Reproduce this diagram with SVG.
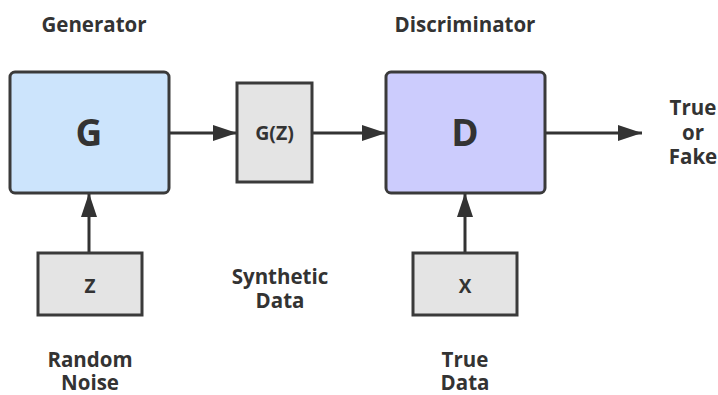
<svg xmlns="http://www.w3.org/2000/svg" width="718" height="395" viewBox="0 0 718 395">
  <style>
    .box { stroke: #3a3a3a; stroke-width: 3; }
    .big { fill: #cce4fc; }
    .dis { fill: #ccccfd; }
    .small { fill: #e4e4e4; }
    .lbl { font-family: "Open Sans", "Liberation Sans", sans-serif; font-weight: bold; fill: #333333; text-anchor: middle; }
    .cap { font-size: 20.5px; }
    .edge { stroke: #333333; stroke-width: 3; fill: none; }
  </style>
  <defs>
    <marker id="head" viewBox="0 0 24 16" refX="24" refY="8" markerWidth="24" markerHeight="16" markerUnits="userSpaceOnUse" orient="auto">
      <path d="M0,0 L24,8 L0,16 z" fill="#333333"/>
    </marker>
  </defs>

  <!-- section titles -->
  <text class="lbl cap" x="94" y="32">Generator</text>
  <text class="lbl cap" x="465" y="32">Discriminator</text>

  <g id="connectors">
    <line class="edge" x1="169" y1="133" x2="237" y2="133" marker-end="url(#head)"/>
    <line class="edge" x1="312" y1="133" x2="386" y2="133" marker-end="url(#head)"/>
    <line class="edge" x1="545" y1="133" x2="642" y2="133" marker-end="url(#head)"/>
    <line class="edge" x1="89" y1="253" x2="89" y2="193" marker-end="url(#head)"/>
    <line class="edge" x1="465" y1="253" x2="465" y2="193" marker-end="url(#head)"/>
  </g>

  <g id="node-g">
    <rect class="box big" x="10" y="72" width="159" height="121" rx="5"/>
    <text class="lbl" x="89" y="146" font-size="37">G</text>
  </g>

  <g id="node-gz">
    <rect class="box small" x="237" y="83" width="75" height="99"/>
    <text class="lbl" x="274.5" y="140" font-size="19.5">G(Z)</text>
  </g>

  <g id="node-d">
    <rect class="box dis" x="386" y="72" width="159" height="121" rx="5"/>
    <text class="lbl" x="465" y="146" font-size="37">D</text>
  </g>

  <g id="node-z">
    <rect class="box small" x="38" y="253" width="104" height="62"/>
    <text class="lbl" x="90" y="293" font-size="19">Z</text>
  </g>

  <g id="node-x">
    <rect class="box small" x="413" y="253" width="104" height="62"/>
    <text class="lbl" x="465" y="293" font-size="19">X</text>
  </g>

  <g id="output-label">
    <text class="lbl cap" x="693" y="115">True</text>
    <text class="lbl cap" x="693" y="140">or</text>
    <text class="lbl cap" x="693" y="164">Fake</text>
  </g>

  <g id="caption-synthetic">
    <text class="lbl cap" x="280" y="284">Synthetic</text>
    <text class="lbl cap" x="280" y="308">Data</text>
  </g>

  <g id="caption-noise">
    <text class="lbl cap" x="90" y="367">Random</text>
    <text class="lbl cap" x="90" y="390">Noise</text>
  </g>

  <g id="caption-true">
    <text class="lbl cap" x="465" y="367">True</text>
    <text class="lbl cap" x="465" y="390">Data</text>
  </g>
</svg>
